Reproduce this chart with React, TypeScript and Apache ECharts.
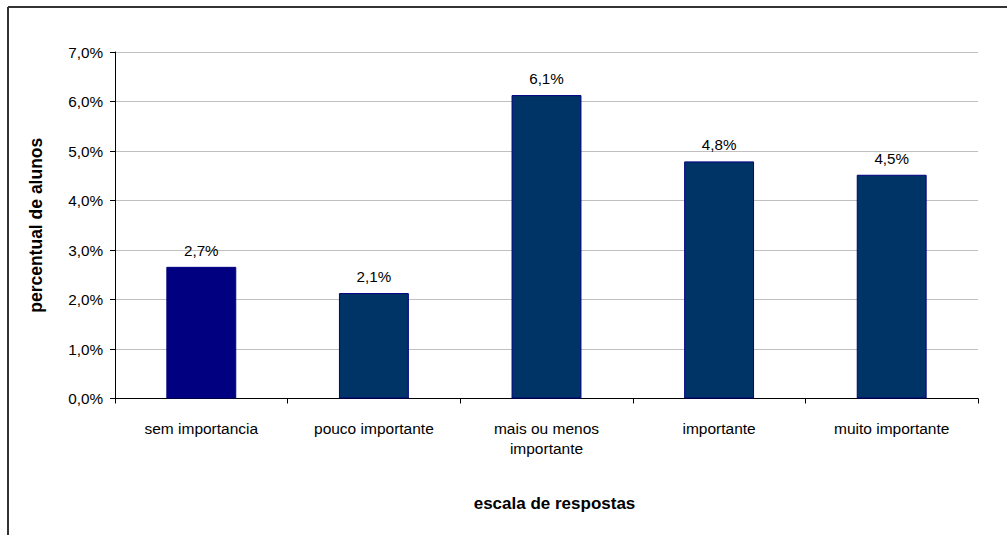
import React, { useEffect, useRef } from "react";
import * as echarts from "echarts";

const categories = [
  "sem importancia",
  "pouco importante",
  "mais ou menos\nimportante",
  "importante",
  "muito importante",
];
const values = [2.66, 2.13, 6.13, 4.79, 4.52];
const barColors = ["#000080", "#003366", "#003366", "#003366", "#003366"];
const yTicks = { min: 0, max: 7, interval: 1 };

const fmt = (v: number) => v.toFixed(1).replace(".", ",") + "%";

export default function App() {
  const ref = useRef<HTMLDivElement>(null);
  useEffect(() => {
    if (!ref.current) return;
    const chart = echarts.init(ref.current, undefined, { renderer: "svg" });
    const font = "'Liberation Sans', Arial, sans-serif";
    chart.setOption({
      animation: false,
      backgroundColor: "#ffffff",
      textStyle: { fontFamily: font },
      grid: { left: 115, right: 29, top: 52, bottom: 136.5 },
      graphic: [
        {
          type: "line",
          shape: { x1: 8, y1: 7, x2: 1007, y2: 7 },
          style: { stroke: "#333333", lineWidth: 2 },
        },
        {
          type: "line",
          shape: { x1: 8, y1: 7, x2: 8, y2: 535 },
          style: { stroke: "#333333", lineWidth: 2 },
        },
      ],
      xAxis: {
        type: "category",
        data: categories,
        name: "escala de respostas",
        nameLocation: "middle",
        nameGap: 96,
        nameTextStyle: {
          fontFamily: font,
          fontSize: 17,
          fontWeight: "bold",
          color: "#000",
          padding: [0, 0, 0, 16],
        },
        axisLine: { lineStyle: { color: "#000", width: 1 } },
        axisTick: { show: true, length: 5, lineStyle: { color: "#000" } },
        axisLabel: {
          fontFamily: font,
          fontSize: 15.5,
          color: "#000",
          margin: 20,
          lineHeight: 20,
          interval: 0,
        },
      },
      yAxis: {
        type: "value",
        min: yTicks.min,
        max: yTicks.max,
        interval: yTicks.interval,
        name: "percentual de alunos",
        nameLocation: "middle",
        nameGap: 70,
        nameTextStyle: { fontFamily: font, fontSize: 17.5, fontWeight: "bold", color: "#000" },
        axisLine: { show: true, lineStyle: { color: "#000", width: 1 } },
        axisTick: { show: true, length: 5, lineStyle: { color: "#000" } },
        axisLabel: {
          fontFamily: font,
          fontSize: 15.3,
          color: "#000",
          margin: 12,
          formatter: (v: number) => fmt(v),
        },
        splitLine: { show: true, lineStyle: { color: "#c0c0c0", width: 1 } },
      },
      series: [
        {
          type: "bar",
          barWidth: "40.5%",
          data: values.map((v, i) => ({
            value: v,
            itemStyle: { color: barColors[i], borderColor: "#000080", borderWidth: 1 },
          })),
          label: {
            show: true,
            position: "top",
            distance: 9,
            fontFamily: font,
            fontSize: 15.2,
            color: "#000",
            formatter: (p: any) => fmt(p.value),
          },
        },
      ],
    });
    return () => chart.dispose();
  }, []);
  return (
    <div
      ref={ref}
      style={{ position: "fixed", left: 0, top: 0, width: 1007, height: 535 }}
    />
  );
}
